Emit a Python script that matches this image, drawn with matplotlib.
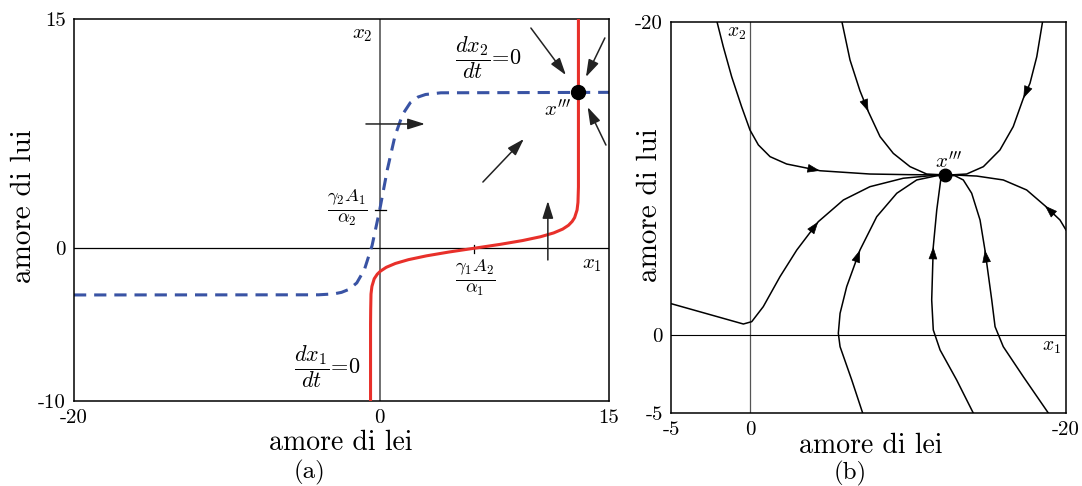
import matplotlib
matplotlib.use('Agg')
import matplotlib.pyplot as plt

plt.rcParams['mathtext.fontset'] = 'cm'
plt.rcParams['font.family'] = ['cmr10', 'DejaVu Serif']
plt.rcParams['axes.unicode_minus'] = False

# panel (a): nullclines
red_x = [-0.6, -0.6, -0.59, -0.57, -0.51, -0.36, -0.16, 0.05, 0.43, 1.02, 1.88, 3.06, 4.53,
         6.2, 7.87, 9.34, 10.52, 11.38, 11.97, 12.35, 12.59, 12.75, 12.91, 12.97, 13.0, 13.0]
red_y = [-10, -5, -4, -3, -2.5, -2, -1.7, -1.5, -1.25, -1.0, -0.75, -0.5, -0.25,
         0, 0.25, 0.5, 0.75, 1.0, 1.25, 1.5, 1.75, 2.0, 2.5, 3, 4, 15]

blue_x = [-20, -4, -3, -2.5, -2, -1.5, -1.0, -0.5, 0, 0.5, 1.0, 1.5, 2.0, 2.5, 3, 4, 15]
blue_y = [-3.06, -3.05, -2.99, -2.89, -2.69, -2.27, -1.40, 0.17, 2.51, 5.15, 7.35, 8.76,
          9.52, 9.89, 10.06, 10.17, 10.2]

eq_a = (12.96, 10.2)

# arrows (start, end) in panel (a)
arrows_a = [((-0.9, 8.13), (2.96, 8.13)),
            ((6.75, 4.33), (9.43, 7.15)),
            ((11.0, -0.77), (11.0, 3.09)),
            ((9.89, 14.41), (12.18, 11.33)),
            ((14.73, 13.76), (13.49, 11.2)),
            ((14.8, 6.75), (13.6, 9.24))]

# panel (b): trajectories
traj1_x = [-2.11, -1.69, -1.16, -0.53, 0.0, 0.53, 1.27, 2.32, 4.43, 7.59, 10.0, 12.34]
traj1_y = [20.1, 18.42, 16.50, 14.58, 13.09, 12.14, 11.39, 10.92, 10.49, 10.28, 10.24, 10.22]
traj2_x = [5.80, 6.33, 6.96, 7.49, 8.23, 9.07, 10.13, 11.18, 12.34]
traj2_y = [20.1, 17.57, 15.6, 14.27, 12.67, 11.6, 10.75, 10.28, 10.22]
traj3_x = [18.53, 18.15, 17.72, 17.3, 16.66, 15.82, 14.77, 13.71, 12.66]
traj3_y = [20.1, 17.78, 16.08, 15.12, 13.31, 11.82, 10.75, 10.28, 10.22]
traj4_x = [20.0, 19.62, 18.67, 17.51, 16.03, 14.35, 12.9]
traj4_y = [6.70, 7.34, 8.25, 9.26, 9.90, 10.15, 10.22]
traj5_x = [-5.06, -0.42, 0.11, 0.84, 1.90, 2.96, 4.32, 5.91, 7.59, 9.70, 11.39, 12.34]
traj5_y = [2.01, 0.69, 0.84, 1.80, 3.72, 5.42, 7.23, 8.62, 9.47, 10.01, 10.17, 10.22]
traj6_x = [7.13, 6.44, 5.70, 5.59, 5.70, 6.12, 6.96, 8.02, 9.29, 10.55, 11.82, 12.34]
traj6_y = [-5.0, -2.89, -0.76, 0.10, 1.37, 3.08, 5.42, 7.55, 9.05, 9.90, 10.17, 10.22]
traj7_x = [14.13, 13.08, 12.03, 11.60, 11.50, 11.60, 11.82, 12.07, 12.34]
traj7_y = [-5.0, -2.89, -0.97, 0.31, 2.23, 5.63, 7.98, 9.90, 10.22]
traj8_x = [18.88, 17.3, 16.03, 15.51, 15.30, 14.87, 14.56, 14.03, 13.5, 12.97, 12.34]
traj8_y = [-5.0, -2.68, -0.76, 0.52, 2.23, 5.42, 7.34, 9.05, 9.90, 10.17, 10.22]
# index of the point carrying each trajectory's arrowhead
trajs = [(traj1_x, traj1_y, 8), (traj2_x, traj2_y, 3), (traj3_x, traj3_y, 3),
         (traj4_x, traj4_y, 2), (traj5_x, traj5_y, 6), (traj6_x, traj6_y, 6),
         (traj7_x, traj7_y, 5), (traj8_x, traj8_y, 5)]

eq_b = (12.34, 10.22)

W, H = 1082, 486
fig = plt.figure(figsize=(W / 100, H / 100), dpi=100)


def box(l, t, r, b):
    return [l / W, 1 - b / H, (r - l) / W, (b - t) / H]


def ftext(px, py, s, **kw):
    fig.text(px / W, 1 - py / H, s, ha='center', va='center', **kw)


# ---- (a)
ax = fig.add_axes(box(74, 19, 609, 401))
ax.set_xlim(-20, 15)
ax.set_ylim(-10, 15)
ax.axvline(0, color='#707070', lw=1.4, zorder=1)
ax.axhline(0, color='black', lw=0.9, zorder=1)
ax.plot(blue_x, blue_y, color='#3953a4', lw=2.2, dashes=(4, 2.6), zorder=2)
ax.plot(red_x, red_y, color='#e8302a', lw=2.2, zorder=3)
ax.plot(*eq_a, 'o', color='black', ms=10, zorder=4)
ax.plot([-0.33, 0.4], [2.5, 2.5], color='black', lw=0.9)
ax.plot([6.2, 6.2], [-0.3, 0.2], color='black', lw=0.9)
for (x0, y0), (x1, y1) in arrows_a:
    ax.annotate('', xy=(x1, y1), xytext=(x0, y0),
                arrowprops=dict(arrowstyle='-|>,head_length=0.7,head_width=0.22',
                                mutation_scale=15, color='#222222', lw=1.1,
                                shrinkA=0, shrinkB=0))
ax.text(-1.16, 13.95, r'$x_2$', fontsize=15, ha='center', va='center')
ax.text(13.88, -1.1, r'$x_1$', fontsize=15, ha='center', va='center')
ax.text(11.6, 9.05, r"$x'''$", fontsize=15, ha='center', va='center')
ax.text(7.14, 12.5, r'$\dfrac{dx_2}{dt}\!=\!0$', fontsize=16, ha='center', va='center')
ax.text(-3.39, -7.77, r'$\dfrac{dx_1}{dt}\!=\!0$', fontsize=16, ha='center', va='center')
ax.text(-2.15, 2.7, r'$\frac{\gamma_2 A_1}{\alpha_2}$', fontsize=19, ha='center', va='center')
ax.text(6.23, -1.88, r'$\frac{\gamma_1 A_2}{\alpha_1}$', fontsize=19, ha='center', va='center')
ax.set_xticks([-20, 0, 15])
ax.set_xticklabels(['-20', '0', '15'])
ax.set_yticks([-10, 0, 15])
ax.set_yticklabels(['-10', '0', '15'])
ax.tick_params(length=0, labelsize=15, pad=6)
for s in ax.spines.values():
    s.set_linewidth(1.1)

ftext(341, 443, 'amore di lei', fontsize=20)
ftext(310, 472, '(a)', fontsize=18)
ftext(24, 206, 'amore di lui', fontsize=21, rotation=90)

# ---- (b)
bx = fig.add_axes(box(671, 22, 1066, 413))
bx.set_xlim(-5, 20)
bx.set_ylim(-5, 20)
bx.axvline(0, color='#555555', lw=0.9, zorder=1)
bx.axhline(0, color='black', lw=0.8, zorder=1)
for tx, ty, k in trajs:
    bx.plot(tx, ty, color='black', lw=1.1, zorder=2)
    px, py = tx[k], ty[k]
    qx, qy = tx[k - 1], ty[k - 1]
    bx.annotate('', xy=(px, py), xytext=(px - 0.02 * (px - qx), py - 0.02 * (py - qy)),
                arrowprops=dict(arrowstyle='-|>,head_length=0.8,head_width=0.28',
                                mutation_scale=10, color='black', lw=0.5,
                                shrinkA=0, shrinkB=0))
bx.plot(*eq_b, 'o', color='black', ms=9, zorder=4)
bx.text(-0.84, 19.28, r'$x_2$', fontsize=14, ha='center', va='center')
bx.text(19.09, -0.76, r'$x_1$', fontsize=14, ha='center', va='center')
bx.text(12.55, 11.07, r"$x'''$", fontsize=15, ha='center', va='center')
bx.set_xticks([-5, 0, 20])
bx.set_xticklabels(['-5', '0', '-20'])
bx.set_yticks([-5, 0, 20])
bx.set_yticklabels(['-5', '0', '-20'])
bx.tick_params(length=0, labelsize=15, pad=6)
for s in bx.spines.values():
    s.set_linewidth(1.1)

ftext(871, 446, 'amore di lei', fontsize=20)
ftext(850, 473, '(b)', fontsize=18)
ftext(650, 205, 'amore di lui', fontsize=21, rotation=90)

fig.savefig('out.png', dpi=100)
